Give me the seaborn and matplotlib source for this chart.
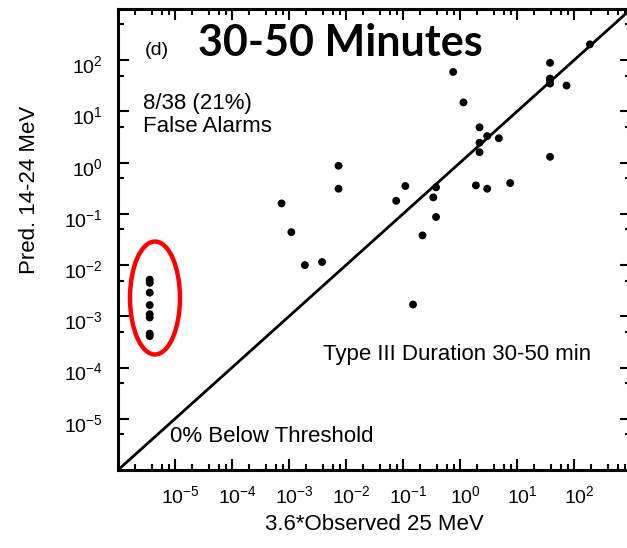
import numpy as np
import pandas as pd
import seaborn as sns
import matplotlib.pyplot as plt
from matplotlib.ticker import LogLocator, NullFormatter
from matplotlib.patches import Ellipse
import matplotlib.transforms as mtransforms

#@ Observed (x) and predicted (y) fluxes
obs = [190, 38, 0.76, 38, 38, 38, 74, 1.15, 2.2, 3.0, 4.8, 2.2, 2.2, 38,
       0.0074, 0.0074, 0.11, 0.38, 1.9, 3.0, 7.6, 0.00074, 0.076, 0.34,
       0.38, 0.22, 0.0011, 0.0019, 0.0038, 0.15]
pred = [204, 89, 59, 44, 40, 35, 32, 15, 4.9, 3.3, 3.0, 2.45, 1.6, 1.3,
        0.87, 0.31, 0.35, 0.33, 0.36, 0.31, 0.40, 0.16, 0.18, 0.21,
        0.087, 0.038, 0.044, 0.010, 0.0115, 0.0017]

#@ False alarms (no observed event, plotted at the floor)
fa_obs = [3.6e-6] * 8
fa_pred = [0.0052, 0.0045, 0.0029, 0.00166, 0.0011, 0.00095, 0.00046, 0.00041]

diag = [1e-6, 1e3]
decades = [-5, -4, -3, -2, -1, 0, 1, 2]
tick_vals = [10.0 ** d for d in decades]
tick_labels = [r"$10^{%d}$" % d for d in decades]

df = pd.DataFrame({"obs": obs + fa_obs, "pred": pred + fa_pred})

sns.set_style("ticks")
plt.rcParams["font.family"] = ["Liberation Sans", "DejaVu Sans"]
plt.rcParams["mathtext.fontset"] = "custom"
plt.rcParams["mathtext.rm"] = "Liberation Sans"
plt.rcParams["mathtext.it"] = "Liberation Sans:italic"
plt.rcParams["mathtext.default"] = "regular"
plt.rcParams["text.color"] = "black"
plt.rcParams["axes.labelcolor"] = "black"
plt.rcParams["xtick.color"] = "black"
plt.rcParams["ytick.color"] = "black"

fig = plt.figure(figsize=(6.27, 5.48), dpi=100)
ax = fig.add_axes([118 / 627, 78 / 548, 513 / 627, 461 / 548])

sns.lineplot(x=diag, y=diag, ax=ax, color="black", linewidth=2.0)
sns.scatterplot(data=df, x="obs", y="pred", ax=ax, color="black",
                s=32, edgecolor="none")

ax.set_xscale("log")
ax.set_yscale("log")
ax.set_xlim(1e-6, 1e3)
ax.set_ylim(1e-6, 1e3)

ax.set_xticks(tick_vals)
ax.set_xticklabels(tick_labels)
ax.set_yticks(tick_vals)
ax.set_yticklabels(tick_labels)
ax.xaxis.set_minor_locator(LogLocator(base=10, subs=(2, 4, 6, 8), numticks=50))
ax.yaxis.set_minor_locator(LogLocator(base=10, subs=(5,), numticks=50))
ax.xaxis.set_minor_formatter(NullFormatter())
ax.yaxis.set_minor_formatter(NullFormatter())

ax.tick_params(which="both", direction="in", top=True, right=True,
               width=1.5, labelsize=14, color="black", labelcolor="black")
ax.tick_params(which="major", length=8)
ax.tick_params(which="minor", length=4.5)
ax.tick_params(axis="x", pad=11)
ax.tick_params(axis="y", pad=11)

#@ nudge tick labels a little like the original
for lab in ax.get_xticklabels():
    lab.set_transform(lab.get_transform() +
                      mtransforms.ScaledTranslation(5 / 100, 0, fig.dpi_scale_trans))
for lab in ax.get_yticklabels():
    lab.set_transform(lab.get_transform() +
                      mtransforms.ScaledTranslation(0, -4 / 100, fig.dpi_scale_trans))

for sp in ax.spines.values():
    sp.set_linewidth(2.2)
    sp.set_color("black")

ax.set_xlabel("3.6*Observed 25 MeV", fontsize=16, labelpad=5)
ax.set_ylabel("")
fig.text(30 / 627, 1 - 190 / 548, "Pred. 14-24 MeV", rotation=90,
         fontsize=16, ha="center", va="center")

#@ annotations
ax.text(0.053, 0.911, "(d)", transform=ax.transAxes, fontsize=14, va="center")
ax.text(0.156, 0.926, "30-50 Minutes", transform=ax.transAxes, fontsize=31,
        fontweight="bold", family=["Lato", "DejaVu Sans"], va="center")
ax.text(0.0487, 0.77, "8/38 (21%)\nFalse Alarms", transform=ax.transAxes,
        fontsize=16, va="center", linespacing=1.1)
ax.text(0.3996, 0.2495, "Type III Duration 30-50 min", transform=ax.transAxes,
        fontsize=16, va="center")
ax.text(0.1014, 0.0716, "0% Below Threshold", transform=ax.transAxes,
        fontsize=16, va="center")

ax.add_patch(Ellipse((0.0721, 0.3731), 0.0975, 0.245, transform=ax.transAxes,
                     fill=False, edgecolor="#ff0000", linewidth=3.2))

plt.savefig("out.png", dpi=100)
plt.close()
